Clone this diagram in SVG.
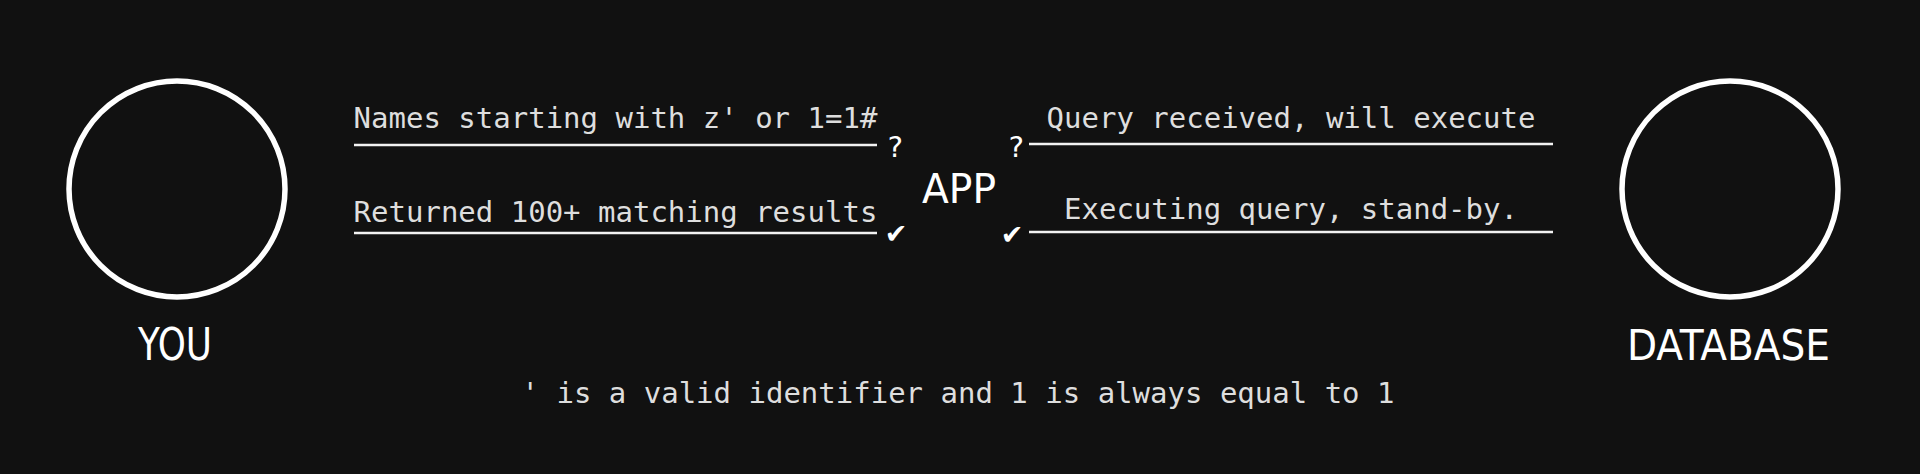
<svg xmlns="http://www.w3.org/2000/svg" width="1920" height="474" viewBox="0 0 1920 474">
  <style>
    .bg { fill: #111111; }
    .node { fill: none; stroke: #ffffff; stroke-width: 5.5; }
    .label { font-family: "DejaVu Sans Condensed", "Liberation Sans", "DejaVu Sans", sans-serif; font-stretch: condensed; fill: #ffffff; text-anchor: middle; }
    .mono { font-family: "DejaVu Sans Mono", "Liberation Mono", monospace; font-size: 29px; fill: #dedede; text-anchor: middle; }
    .conn { stroke: #f2f2f2; stroke-width: 2.5; fill: none; }
    .mark { font-family: "DejaVu Sans Mono", "DejaVu Sans", monospace; font-size: 29px; fill: #ffffff; text-anchor: middle; }
    .check { font-family: "DejaVu Sans", sans-serif; font-size: 27px; fill: #ffffff; text-anchor: middle; }
  </style>
  <rect class="bg" x="0" y="0" width="1920" height="474"/>

  <g id="you">
    <circle class="node" cx="177" cy="189" r="108"/>
    <text class="label" x="175" y="360" font-size="44" textLength="74" lengthAdjust="spacingAndGlyphs">YOU</text>
  </g>

  <g id="app">
    <text class="label" x="959" y="203" font-size="40" textLength="74" lengthAdjust="spacingAndGlyphs">APP</text>
  </g>

  <g id="database">
    <circle class="node" cx="1730" cy="189" r="108"/>
    <text class="label" x="1728.5" y="360" font-size="43" textLength="203" lengthAdjust="spacingAndGlyphs">DATABASE</text>
  </g>

  <g id="connectors">
    <line class="conn" x1="354" y1="145" x2="877" y2="145"/>
    <text class="mono" x="615.5" y="128">Names starting with z' or 1=1#</text>
    <text class="mark" x="895" y="157">?</text>

    <line class="conn" x1="354" y1="233" x2="877" y2="233"/>
    <text class="mono" x="615.5" y="222">Returned 100+ matching results</text>
    <text class="check" x="896" y="243">✔</text>

    <line class="conn" x1="1029" y1="144" x2="1553" y2="144"/>
    <text class="mono" x="1291" y="128">Query received, will execute</text>
    <text class="mark" x="1016" y="157">?</text>

    <line class="conn" x1="1029" y1="232" x2="1553" y2="232"/>
    <text class="mono" x="1291" y="219">Executing query, stand-by.</text>
    <text class="check" x="1012" y="244">✔</text>
  </g>

  <text class="mono" x="958" y="403">' is a valid identifier and 1 is always equal to 1</text>
</svg>
